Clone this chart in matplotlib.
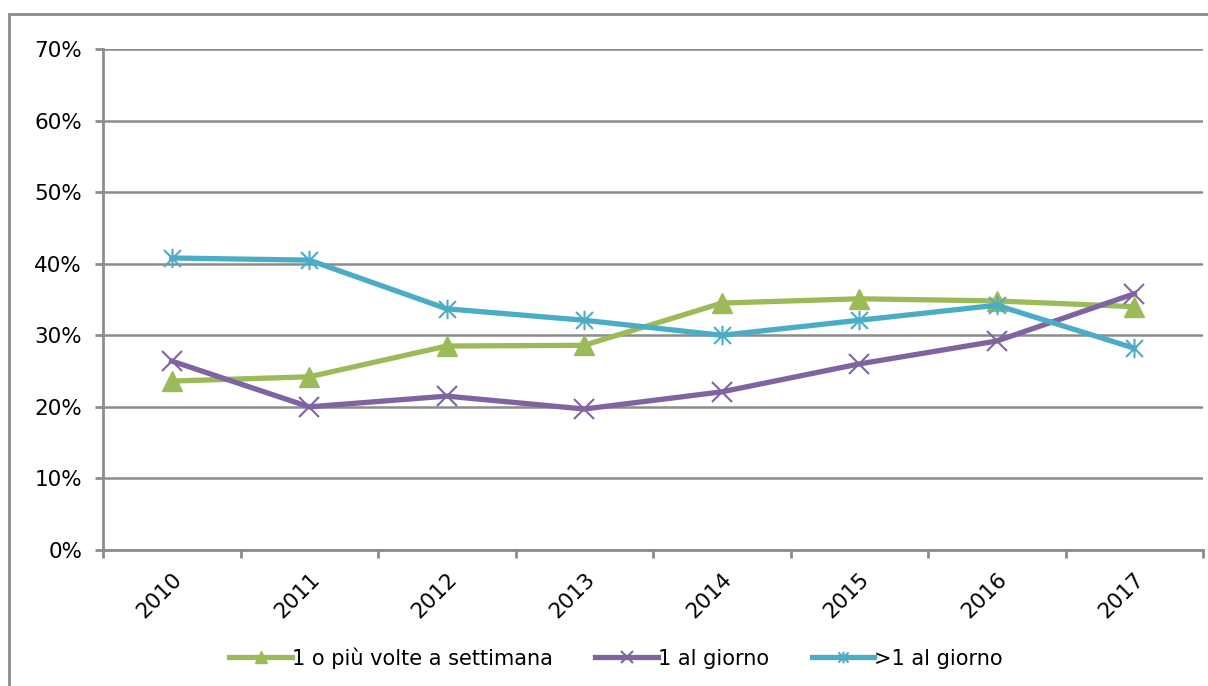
import matplotlib.pyplot as plt
import numpy as np
from matplotlib.path import Path
from matplotlib.patches import Rectangle

# ------ data -----
years = ['2010', '2011', '2012', '2013', '2014', '2015', '2016', '2017']
settimana = [23.6, 24.2, 28.5, 28.6, 34.5, 35.1, 34.8, 34.0]
al_giorno = [26.4, 20.0, 21.5, 19.7, 22.1, 26.0, 29.2, 35.8]
piu_giorno = [40.8, 40.5, 33.7, 32.1, 30.0, 32.1, 34.2, 28.2]
labels = ['1 o più volte a settimana', '1 al giorno', '>1 al giorno']
# -----------------

GREEN = '#9BBB59'
PURPLE = '#8064A2'
CYAN = '#4BACC6'
GRID = '#8c8c8c'

# star marker: an x with a vertical bar through it
star = Path([(-1, -1), (1, 1), (-1, 1), (1, -1), (0, -1.15), (0, 1.15)],
            [Path.MOVETO, Path.LINETO, Path.MOVETO, Path.LINETO, Path.MOVETO, Path.LINETO])

plt.rcParams['font.family'] = ['DejaVu Sans']

fig = plt.figure(figsize=(12.08, 6.86), dpi=100)
ax = fig.add_axes([103 / 1208, 136 / 686, 1100 / 1208, 501 / 686])

# outer chart frame
fig.patches.append(Rectangle((9 / 1208, -0.05), 1.2, (686 - 14) / 686 + 0.05,
                             transform=fig.transFigure, fill=False,
                             edgecolor=GRID, linewidth=2, zorder=0))

x = np.arange(len(years))
ax.plot(x, settimana, color=GREEN, lw=3.8, marker='^', ms=14,
        mfc=GREEN, mec=GREEN, label=labels[0], zorder=5)
ax.plot(x, al_giorno, color=PURPLE, lw=3.8, marker='x', ms=15,
        mew=1.5, mec=PURPLE, label=labels[1], zorder=5)
ax.plot(x, piu_giorno, color=CYAN, lw=3.8, marker=star, ms=14,
        mew=1.5, mec=CYAN, mfc='none', label=labels[2], zorder=5)

ax.set_xlim(-0.5, 7.5)
ax.set_ylim(0, 70)
ax.set_yticks(np.arange(0, 71, 10))
ax.set_yticklabels([f'{v}%' for v in range(0, 71, 10)], fontsize=15.5)
ax.yaxis.grid(True, color=GRID, linewidth=1.8)
ax.set_axisbelow(True)

ax.set_xticks(x)
ax.set_xticklabels(years, rotation=45, ha='right', va='top',
                   rotation_mode='anchor', fontsize=15.5)
ax.tick_params(axis='x', length=0, pad=14)
ax.set_xticks(np.arange(-0.5, 8, 1), minor=True)
ax.tick_params(axis='x', which='minor', length=6, width=2, color=GRID)
ax.tick_params(axis='y', length=6, width=2, color=GRID, pad=9)

for side in ['top', 'right']:
    ax.spines[side].set_visible(False)
for side in ['left', 'bottom']:
    ax.spines[side].set_color(GRID)
    ax.spines[side].set_linewidth(2)

fig.legend(loc='center', bbox_to_anchor=(0.51, 1 - 658 / 686), ncol=3,
           frameon=False, fontsize=15, handlelength=3.0, handletextpad=0.0,
           columnspacing=2.05, markerscale=0.6)

plt.savefig('out.png', dpi=100)
